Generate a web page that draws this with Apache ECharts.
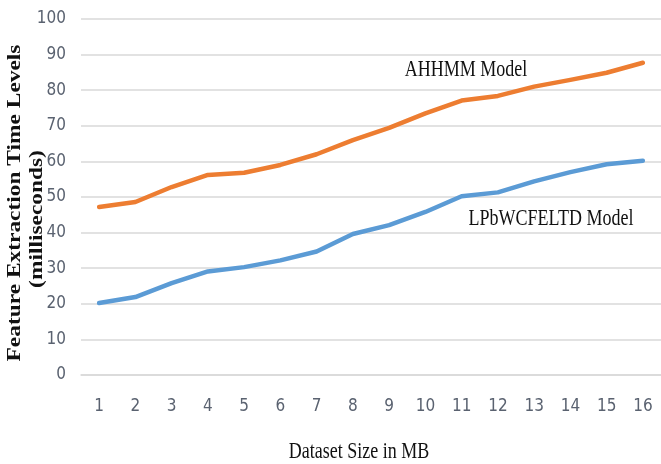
<!DOCTYPE html>
<html>
<head>
<meta charset="utf-8">
<script src="https://cdn.jsdelivr.net/npm/echarts@6/dist/echarts.min.js"></script>
<style>
  html, body { margin: 0; padding: 0; background: #ffffff; }
  #chart { width: 661px; height: 464px; }
</style>
</head>
<body>
<div id="chart"></div>
<script>
// Dataset sizes (MB) on the x axis
const sizes = ['1', '2', '3', '4', '5', '6', '7', '8', '9', '10', '11', '12', '13', '14', '15', '16'];

// Feature extraction time (milliseconds) per model
const ahhmm = [47.2, 48.6, 52.8, 56.2, 56.8, 59.0, 62.0, 66.0, 69.4, 73.5, 77.1, 78.4, 81.0, 82.9, 84.9, 87.7];
const lpbwcfeltd = [20.2, 21.9, 25.8, 29.1, 30.3, 32.2, 34.7, 39.6, 42.1, 45.8, 50.2, 51.3, 54.4, 57.0, 59.2, 60.2];

const seriesNames = ['AHHMM Model', 'LPbWCFELTD Model'];
const yTitle = ['Feature Extraction Time Levels', '(milliseconds)'];
const xTitle = 'Dataset Size in MB';

const tickFont = "'Liberation Sans Narrow', 'DejaVu Sans Condensed', sans-serif";
const serif = "'Liberation Serif', 'DejaVu Serif', serif";

// Serif captions are drawn a little taller than wide (condensed look)
const stretch = 1.3;

const chart = echarts.init(document.getElementById('chart'), null, { renderer: 'canvas' });

chart.setOption({
  animation: false,
  backgroundColor: '#ffffff',
  grid: { left: 81, top: 19, width: 592, height: 356 },
  xAxis: {
    type: 'category',
    data: sizes,
    boundaryGap: true,
    axisLine: { show: true, lineStyle: { color: '#d9d9d9', width: 1.5 } },
    axisTick: { show: false },
    axisLabel: { color: '#5a6270', fontFamily: tickFont, fontSize: 17, margin: 23 }
  },
  yAxis: {
    type: 'value',
    min: 0,
    max: 100,
    interval: 10,
    axisLine: { show: false },
    axisTick: { show: false },
    splitLine: { lineStyle: { color: '#d9d9d9', width: 1.5 } },
    axisLabel: { color: '#5a6270', fontFamily: tickFont, fontSize: 17, margin: 15 }
  },
  series: [
    {
      name: seriesNames[0],
      type: 'line',
      data: ahhmm,
      smooth: false,
      symbol: 'none',
      lineStyle: { color: '#ED7D31', width: 4.5, cap: 'round', join: 'round' }
    },
    {
      name: seriesNames[1],
      type: 'line',
      data: lpbwcfeltd,
      smooth: false,
      symbol: 'none',
      lineStyle: { color: '#5B9BD5', width: 4.5, cap: 'round', join: 'round' }
    }
  ],
  graphic: [
    {
      type: 'text',
      x: 466, y: 70,
      scaleY: stretch,
      style: {
        text: seriesNames[0],
        font: '18px ' + serif,
        fill: '#111111',
        textAlign: 'center',
        textVerticalAlign: 'middle'
      }
    },
    {
      type: 'text',
      x: 551, y: 219,
      scaleY: stretch,
      style: {
        text: seriesNames[1],
        font: '18px ' + serif,
        fill: '#111111',
        textAlign: 'center',
        textVerticalAlign: 'middle',
        backgroundColor: '#ffffff',
        padding: [4, 2, 4, 2]
      }
    },
    {
      type: 'text',
      x: 15, y: 203,
      rotation: Math.PI / 2,
      scaleX: stretch,
      style: {
        text: yTitle[0],
        font: 'bold 18px ' + serif,
        fill: '#111111',
        textAlign: 'center',
        textVerticalAlign: 'middle'
      }
    },
    {
      type: 'text',
      x: 37, y: 219,
      rotation: Math.PI / 2,
      scaleX: stretch,
      style: {
        text: yTitle[1],
        font: 'bold 18px ' + serif,
        fill: '#111111',
        textAlign: 'center',
        textVerticalAlign: 'middle'
      }
    },
    {
      type: 'text',
      x: 359, y: 452,
      scaleY: stretch,
      style: {
        text: xTitle,
        font: '18px ' + serif,
        fill: '#111111',
        textAlign: 'center',
        textVerticalAlign: 'middle'
      }
    }
  ]
});
</script>
</body>
</html>
